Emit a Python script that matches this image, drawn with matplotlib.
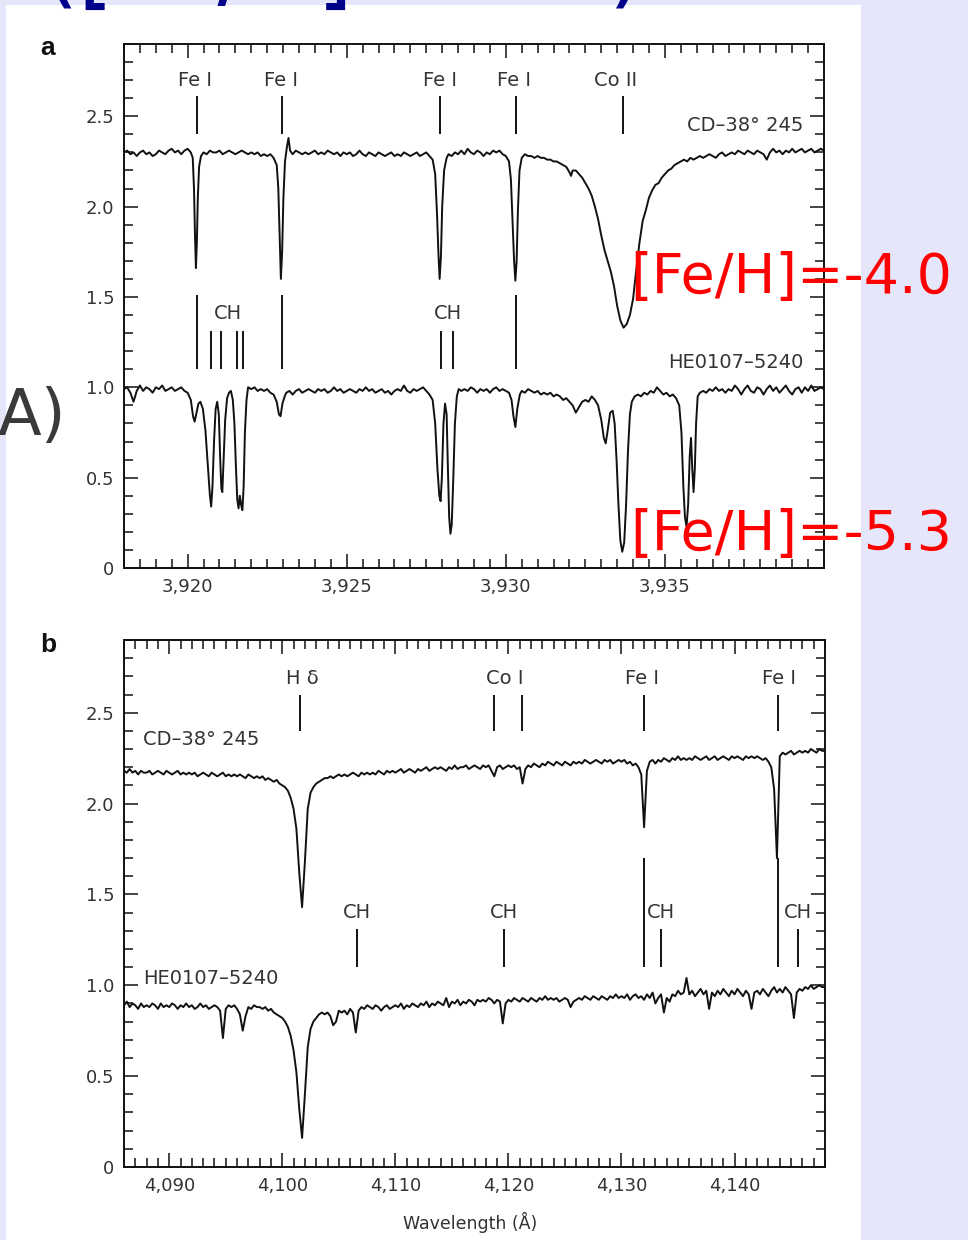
import numpy as np
import matplotlib
matplotlib.use("Agg")
import matplotlib.pyplot as plt
from matplotlib.patches import Rectangle
from matplotlib.ticker import MultipleLocator, FixedLocator, FixedFormatter

plt.rcParams['font.family'] = ['DejaVu Sans']

# ---------------- panel a data (wavelength in A, relative flux) ----------------
a_top_spectrum = [  # CD-38 245, offset +1.3
    (3918.0, 2.30), (3918.1, 2.31), (3918.2, 2.29), (3918.3, 2.30), (3918.4, 2.28),
    (3918.5, 2.30), (3918.6, 2.31), (3918.7, 2.29), (3918.8, 2.30), (3918.9, 2.28),
    (3919.0, 2.29), (3919.1, 2.31), (3919.2, 2.30), (3919.3, 2.29), (3919.4, 2.31),
    (3919.5, 2.32), (3919.6, 2.30), (3919.7, 2.31), (3919.8, 2.29), (3919.9, 2.31),
    (3920.0, 2.32), (3920.1, 2.30), (3920.16, 2.27), (3920.20, 2.10), (3920.23, 1.85),
    (3920.26, 1.66), (3920.29, 1.80), (3920.32, 2.05), (3920.36, 2.22), (3920.42, 2.28),
    (3920.5, 2.30), (3920.6, 2.29), (3920.7, 2.31), (3920.8, 2.30), (3920.9, 2.30),
    (3921.0, 2.31), (3921.1, 2.29), (3921.2, 2.30), (3921.3, 2.31), (3921.4, 2.30),
    (3921.5, 2.29), (3921.6, 2.30), (3921.7, 2.31), (3921.8, 2.30), (3921.9, 2.29),
    (3922.0, 2.30), (3922.1, 2.29), (3922.2, 2.30), (3922.3, 2.28), (3922.4, 2.29),
    (3922.5, 2.28), (3922.6, 2.29), (3922.7, 2.27), (3922.8, 2.23), (3922.85, 2.10),
    (3922.89, 1.85), (3922.93, 1.60), (3922.97, 1.75), (3923.01, 2.05), (3923.06, 2.25),
    (3923.12, 2.33), (3923.17, 2.38), (3923.22, 2.31), (3923.3, 2.29), (3923.4, 2.31),
    (3923.5, 2.30), (3923.6, 2.29), (3923.7, 2.30), (3923.8, 2.29), (3923.9, 2.30),
    (3924.0, 2.31), (3924.1, 2.29), (3924.2, 2.30), (3924.3, 2.29), (3924.4, 2.31),
    (3924.5, 2.30), (3924.6, 2.29), (3924.7, 2.30), (3924.8, 2.28), (3924.9, 2.30),
    (3925.0, 2.29), (3925.1, 2.30), (3925.2, 2.28), (3925.3, 2.29), (3925.4, 2.31),
    (3925.5, 2.29), (3925.6, 2.28), (3925.7, 2.30), (3925.8, 2.29), (3925.9, 2.28),
    (3926.0, 2.30), (3926.1, 2.29), (3926.2, 2.28), (3926.3, 2.29), (3926.4, 2.30),
    (3926.5, 2.28), (3926.6, 2.29), (3926.7, 2.28), (3926.8, 2.30), (3926.9, 2.29),
    (3927.0, 2.28), (3927.1, 2.29), (3927.2, 2.30), (3927.3, 2.28), (3927.4, 2.29),
    (3927.5, 2.30), (3927.6, 2.28), (3927.7, 2.26), (3927.78, 2.18), (3927.84, 1.95),
    (3927.88, 1.75), (3927.92, 1.60), (3927.96, 1.72), (3928.0, 2.00), (3928.06, 2.20),
    (3928.14, 2.27), (3928.2, 2.29), (3928.3, 2.28), (3928.4, 2.30), (3928.5, 2.29),
    (3928.6, 2.31), (3928.7, 2.29), (3928.8, 2.32), (3928.9, 2.30), (3929.0, 2.29),
    (3929.1, 2.31), (3929.2, 2.30), (3929.3, 2.28), (3929.4, 2.30), (3929.5, 2.29),
    (3929.6, 2.31), (3929.7, 2.30), (3929.8, 2.31), (3929.9, 2.29), (3930.0, 2.28),
    (3930.1, 2.25), (3930.16, 2.15), (3930.21, 1.92), (3930.26, 1.70), (3930.30, 1.59),
    (3930.34, 1.70), (3930.38, 1.98), (3930.43, 2.20), (3930.5, 2.27), (3930.6, 2.29),
    (3930.7, 2.28), (3930.8, 2.28), (3930.9, 2.27), (3931.0, 2.28), (3931.1, 2.27),
    (3931.2, 2.27), (3931.3, 2.26), (3931.4, 2.26), (3931.5, 2.25), (3931.6, 2.25),
    (3931.7, 2.24), (3931.8, 2.23), (3931.9, 2.22), (3932.0, 2.19), (3932.05, 2.17),
    (3932.1, 2.20), (3932.2, 2.20), (3932.3, 2.18), (3932.4, 2.16), (3932.5, 2.13),
    (3932.6, 2.10), (3932.7, 2.06), (3932.8, 2.00), (3932.9, 1.93), (3933.0, 1.84),
    (3933.1, 1.76), (3933.2, 1.70), (3933.3, 1.64), (3933.4, 1.56), (3933.5, 1.45),
    (3933.6, 1.37), (3933.7, 1.33), (3933.8, 1.35), (3933.9, 1.40), (3934.0, 1.49),
    (3934.1, 1.65), (3934.2, 1.80), (3934.3, 1.92), (3934.4, 1.98), (3934.5, 2.05),
    (3934.6, 2.09), (3934.7, 2.12), (3934.8, 2.13), (3934.9, 2.16), (3935.0, 2.18),
    (3935.1, 2.20), (3935.2, 2.21), (3935.3, 2.23), (3935.4, 2.24), (3935.5, 2.25),
    (3935.6, 2.26), (3935.7, 2.25), (3935.8, 2.27), (3935.9, 2.26), (3936.0, 2.27),
    (3936.1, 2.28), (3936.2, 2.27), (3936.3, 2.28), (3936.4, 2.29), (3936.5, 2.28),
    (3936.6, 2.27), (3936.7, 2.29), (3936.8, 2.30), (3936.9, 2.28), (3937.0, 2.29),
    (3937.1, 2.30), (3937.2, 2.29), (3937.3, 2.31), (3937.4, 2.30), (3937.5, 2.29),
    (3937.6, 2.31), (3937.7, 2.30), (3937.8, 2.29), (3937.9, 2.31), (3938.0, 2.30),
    (3938.1, 2.29), (3938.2, 2.26), (3938.3, 2.30), (3938.4, 2.32), (3938.5, 2.30),
    (3938.6, 2.31), (3938.7, 2.29), (3938.8, 2.31), (3938.9, 2.30), (3939.0, 2.32),
    (3939.1, 2.30), (3939.2, 2.31), (3939.3, 2.32), (3939.4, 2.30), (3939.5, 2.31),
    (3939.6, 2.32), (3939.7, 2.30), (3939.8, 2.31), (3939.9, 2.32), (3940.0, 2.31),
]

a_bottom_spectrum = [  # HE0107-5240
    (3918.0, 0.99), (3918.1, 1.00), (3918.2, 0.97), (3918.3, 0.92), (3918.4, 0.98),
    (3918.5, 1.01), (3918.6, 0.98), (3918.7, 1.00), (3918.8, 0.99), (3918.9, 0.97),
    (3919.0, 1.00), (3919.1, 0.99), (3919.2, 1.01), (3919.3, 0.98), (3919.4, 0.99),
    (3919.5, 1.00), (3919.6, 0.98), (3919.7, 0.99), (3919.8, 1.00), (3919.9, 0.98),
    (3920.0, 0.97), (3920.1, 0.93), (3920.17, 0.84), (3920.22, 0.81), (3920.28, 0.86),
    (3920.34, 0.91), (3920.4, 0.92), (3920.48, 0.88), (3920.56, 0.76), (3920.64, 0.55),
    (3920.70, 0.40), (3920.74, 0.34), (3920.78, 0.45), (3920.83, 0.70), (3920.88, 0.88),
    (3920.93, 0.92), (3920.98, 0.85), (3921.02, 0.62), (3921.06, 0.44), (3921.09, 0.42),
    (3921.13, 0.60), (3921.18, 0.82), (3921.24, 0.94), (3921.30, 0.97), (3921.36, 0.98),
    (3921.42, 0.93), (3921.47, 0.80), (3921.52, 0.55), (3921.56, 0.38), (3921.60, 0.33),
    (3921.64, 0.40), (3921.68, 0.35), (3921.72, 0.32), (3921.76, 0.45), (3921.80, 0.75),
    (3921.85, 0.93), (3921.9, 1.00), (3922.0, 0.99), (3922.1, 1.00), (3922.2, 0.98),
    (3922.3, 0.99), (3922.4, 0.98), (3922.5, 0.99), (3922.6, 0.97), (3922.7, 0.96),
    (3922.8, 0.92), (3922.87, 0.85), (3922.92, 0.84), (3922.98, 0.91), (3923.05, 0.95),
    (3923.1, 0.97), (3923.2, 0.98), (3923.3, 0.96), (3923.4, 0.98), (3923.5, 0.99),
    (3923.6, 0.97), (3923.7, 0.98), (3923.8, 0.99), (3923.9, 0.98), (3924.0, 0.97),
    (3924.1, 0.99), (3924.2, 0.98), (3924.3, 0.99), (3924.4, 0.97), (3924.5, 0.98),
    (3924.6, 1.00), (3924.7, 0.98), (3924.8, 0.99), (3924.9, 0.97), (3925.0, 0.98),
    (3925.1, 0.99), (3925.2, 0.98), (3925.3, 0.97), (3925.4, 0.99), (3925.5, 0.98),
    (3925.6, 1.00), (3925.7, 0.98), (3925.8, 0.99), (3925.9, 0.97), (3926.0, 0.98),
    (3926.1, 0.99), (3926.2, 0.97), (3926.3, 0.98), (3926.4, 0.96), (3926.5, 0.98),
    (3926.6, 0.99), (3926.7, 0.98), (3926.8, 1.01), (3926.9, 0.98), (3927.0, 0.97),
    (3927.1, 0.99), (3927.2, 0.98), (3927.3, 0.99), (3927.4, 1.00), (3927.5, 0.98),
    (3927.6, 0.96), (3927.7, 0.93), (3927.78, 0.80), (3927.85, 0.55), (3927.91, 0.40),
    (3927.95, 0.37), (3927.99, 0.50), (3928.04, 0.80), (3928.09, 0.91), (3928.14, 0.85),
    (3928.18, 0.55), (3928.22, 0.28), (3928.26, 0.19), (3928.30, 0.24), (3928.35, 0.50),
    (3928.40, 0.80), (3928.46, 0.95), (3928.52, 0.99), (3928.6, 0.98), (3928.7, 0.99),
    (3928.8, 0.98), (3928.9, 1.00), (3929.0, 0.99), (3929.1, 0.97), (3929.2, 0.99),
    (3929.3, 0.98), (3929.4, 0.99), (3929.5, 0.97), (3929.6, 0.99), (3929.7, 1.00),
    (3929.8, 0.98), (3929.9, 0.99), (3930.0, 0.98), (3930.1, 0.97), (3930.18, 0.93),
    (3930.24, 0.84), (3930.30, 0.78), (3930.36, 0.88), (3930.44, 0.96), (3930.5, 0.98),
    (3930.6, 0.97), (3930.7, 0.99), (3930.8, 0.98), (3930.9, 0.97), (3931.0, 0.98),
    (3931.1, 0.96), (3931.2, 0.97), (3931.3, 0.96), (3931.4, 0.97), (3931.5, 0.95),
    (3931.6, 0.96), (3931.7, 0.95), (3931.8, 0.93), (3931.9, 0.94), (3932.0, 0.92),
    (3932.1, 0.90), (3932.2, 0.86), (3932.3, 0.89), (3932.4, 0.92), (3932.5, 0.93),
    (3932.6, 0.92), (3932.7, 0.95), (3932.8, 0.93), (3932.9, 0.90), (3933.0, 0.82),
    (3933.08, 0.72), (3933.14, 0.69), (3933.2, 0.76), (3933.28, 0.86), (3933.36, 0.87),
    (3933.42, 0.80), (3933.48, 0.60), (3933.54, 0.35), (3933.60, 0.15), (3933.66, 0.09),
    (3933.72, 0.14), (3933.78, 0.35), (3933.84, 0.65), (3933.90, 0.85), (3933.96, 0.92),
    (3934.05, 0.95), (3934.15, 0.96), (3934.25, 0.95), (3934.35, 0.97), (3934.45, 0.96),
    (3934.55, 0.98), (3934.65, 0.97), (3934.75, 1.00), (3934.85, 0.98), (3934.95, 0.96),
    (3935.05, 0.97), (3935.15, 0.95), (3935.25, 0.96), (3935.35, 0.94), (3935.45, 0.90),
    (3935.52, 0.75), (3935.58, 0.45), (3935.63, 0.28), (3935.68, 0.23), (3935.73, 0.35),
    (3935.78, 0.62), (3935.82, 0.72), (3935.86, 0.55), (3935.90, 0.42), (3935.94, 0.55),
    (3935.98, 0.80), (3936.03, 0.95), (3936.1, 0.97), (3936.2, 0.98), (3936.3, 0.97),
    (3936.4, 0.99), (3936.5, 0.98), (3936.6, 1.00), (3936.7, 0.98), (3936.8, 0.99),
    (3936.9, 0.97), (3937.0, 0.99), (3937.1, 0.98), (3937.2, 1.01), (3937.3, 0.99),
    (3937.4, 0.96), (3937.5, 0.99), (3937.6, 1.01), (3937.7, 0.98), (3937.8, 0.97),
    (3937.9, 1.00), (3938.0, 0.99), (3938.1, 0.96), (3938.2, 0.99), (3938.3, 1.01),
    (3938.4, 0.98), (3938.5, 1.00), (3938.6, 0.97), (3938.7, 0.99), (3938.8, 1.01),
    (3938.9, 0.98), (3939.0, 0.96), (3939.1, 0.99), (3939.2, 1.00), (3939.3, 0.97),
    (3939.4, 1.00), (3939.5, 0.98), (3939.6, 1.01), (3939.7, 0.98), (3939.8, 0.99),
    (3939.9, 1.00), (3940.0, 0.99),
]

# line identifications, panel a
a_top_lines = [3920.30, 3922.95, 3927.92, 3930.33, 3933.68]
a_top_label_x = [3920.23, 3922.94, 3927.92, 3930.26, 3933.44]
a_top_labels = ["Fe I", "Fe I", "Fe I", "Fe I", "Co II"]
a_bottom_long = [3920.30, 3922.95, 3930.33]
a_bottom_ch = [3920.74, 3921.05, 3921.55, 3921.74, 3927.97, 3928.35]
a_bottom_ch_label_x = [3921.27, 3928.19]

# ---------------- panel b data (0.25 A sampling from 4086 to 4148) ----------------
b_start, b_step = 4086.0, 0.25
b_top_flux = [  # CD-38 245
    2.18, 2.17, 2.19, 2.17, 2.18, 2.16, 2.18, 2.17,
    2.17, 2.18, 2.16, 2.17, 2.18, 2.17, 2.16, 2.18,
    2.17, 2.16, 2.17, 2.18, 2.16, 2.17, 2.16, 2.17,
    2.16, 2.17, 2.15, 2.16, 2.17, 2.16, 2.15, 2.17,
    2.16, 2.15, 2.16, 2.17, 2.15, 2.16, 2.15, 2.16,
    2.15, 2.16, 2.15, 2.14, 2.16, 2.15, 2.14, 2.15,
    2.14, 2.15, 2.13, 2.14, 2.13, 2.12, 2.13, 2.11,
    2.10, 2.09, 2.07, 2.03, 1.97, 1.86, 1.62, 1.43,
    1.68, 1.97, 2.06, 2.09, 2.11, 2.12, 2.13, 2.14,
    2.14, 2.15, 2.14, 2.15, 2.16, 2.15, 2.16, 2.15,
    2.16, 2.17, 2.16, 2.15, 2.17, 2.16, 2.17, 2.16,
    2.17, 2.16, 2.18, 2.17, 2.16, 2.18, 2.17, 2.18,
    2.17, 2.18, 2.19, 2.17, 2.18, 2.19, 2.18, 2.17,
    2.19, 2.18, 2.19, 2.20, 2.18, 2.19, 2.20, 2.19,
    2.20, 2.19, 2.18, 2.20, 2.19, 2.21, 2.19, 2.20,
    2.20, 2.21, 2.19, 2.20, 2.21, 2.20, 2.19, 2.21,
    2.20, 2.21, 2.18, 2.15, 2.20, 2.21, 2.19, 2.20,
    2.21, 2.20, 2.21, 2.19, 2.20, 2.11, 2.19, 2.21,
    2.20, 2.22, 2.21, 2.20, 2.22, 2.21, 2.23, 2.22,
    2.21, 2.23, 2.22, 2.21, 2.23, 2.22, 2.21, 2.23,
    2.22, 2.23, 2.22, 2.24, 2.23, 2.22, 2.23, 2.24,
    2.23, 2.22, 2.24, 2.23, 2.24, 2.22, 2.23, 2.24,
    2.23, 2.24, 2.22, 2.23, 2.21, 2.22, 2.20, 2.16,
    1.87, 2.18, 2.23, 2.24, 2.22, 2.24, 2.23, 2.25,
    2.24, 2.23, 2.25, 2.24, 2.26, 2.24, 2.25, 2.24,
    2.25, 2.24, 2.26, 2.25, 2.24, 2.25, 2.26, 2.24,
    2.25, 2.26, 2.24, 2.25, 2.26, 2.25, 2.24, 2.26,
    2.25, 2.26, 2.25, 2.24, 2.26, 2.25, 2.26, 2.25,
    2.26, 2.25, 2.24, 2.25, 2.23, 2.20, 2.08, 1.70,
    2.26, 2.28, 2.27, 2.28, 2.29, 2.27, 2.28, 2.29,
    2.28, 2.29, 2.28, 2.30, 2.29, 2.28, 2.30, 2.29,
    2.29,
]
b_bottom_flux = [  # HE0107-5240
    0.89, 0.91, 0.88, 0.90, 0.89, 0.87, 0.90, 0.88,
    0.89, 0.88, 0.90, 0.89, 0.87, 0.90, 0.88, 0.89,
    0.88, 0.90, 0.89, 0.87, 0.89, 0.88, 0.90, 0.88,
    0.89, 0.87, 0.88, 0.90, 0.88, 0.89, 0.87, 0.88,
    0.89, 0.88, 0.86, 0.71, 0.87, 0.89, 0.88, 0.89,
    0.87, 0.84, 0.75, 0.83, 0.88, 0.87, 0.89, 0.88,
    0.88, 0.87, 0.88, 0.86, 0.87, 0.85, 0.84, 0.83,
    0.82, 0.80, 0.77, 0.72, 0.64, 0.52, 0.32, 0.16,
    0.40, 0.66, 0.76, 0.80, 0.82, 0.84, 0.85, 0.84,
    0.85, 0.83, 0.78, 0.80, 0.86, 0.85, 0.86, 0.84,
    0.87, 0.85, 0.74, 0.86, 0.88, 0.87, 0.89, 0.88,
    0.87, 0.89, 0.88, 0.86, 0.88, 0.89, 0.87, 0.88,
    0.89, 0.88, 0.90, 0.87, 0.89, 0.88, 0.90, 0.89,
    0.88, 0.90, 0.89, 0.91, 0.88, 0.90, 0.89, 0.91,
    0.90, 0.89, 0.93, 0.88, 0.91, 0.90, 0.92, 0.89,
    0.91, 0.90, 0.92, 0.91, 0.89, 0.92, 0.91, 0.92,
    0.91, 0.93, 0.92, 0.90, 0.92, 0.91, 0.79, 0.90,
    0.92, 0.91, 0.93, 0.92, 0.91, 0.93, 0.92, 0.91,
    0.93, 0.92, 0.91, 0.93, 0.92, 0.94, 0.92, 0.93,
    0.92, 0.93, 0.91, 0.92, 0.93, 0.92, 0.88, 0.91,
    0.92, 0.93, 0.92, 0.94, 0.93, 0.92, 0.94, 0.93,
    0.92, 0.94, 0.93, 0.92, 0.94, 0.93, 0.95, 0.93,
    0.94, 0.93, 0.95, 0.92, 0.94, 0.95, 0.93, 0.94,
    0.92, 0.95, 0.93, 0.96, 0.90, 0.93, 0.95, 0.85,
    0.93, 0.91, 0.95, 0.94, 0.97, 0.95, 0.96, 1.04,
    0.95, 0.97, 0.94, 0.96, 0.98, 0.95, 0.97, 0.87,
    0.96, 0.94, 0.97, 0.95, 0.98, 0.96, 0.94, 0.97,
    0.95, 0.98, 0.96, 0.94, 0.97, 0.95, 0.87, 0.96,
    0.97, 0.95, 0.98, 0.96, 0.94, 0.97, 0.99, 0.96,
    0.98, 0.96, 0.99, 0.97, 0.95, 0.82, 0.96, 0.98,
    0.97, 0.99, 0.98, 1.00, 0.98, 0.99, 1.00, 0.99,
    0.99,
]

# line identifications, panel b
b_top_lines = [4101.6, 4118.7, 4121.2, 4132.0, 4143.8]
b_top_label_x = [4101.75, 4119.7, 4131.8, 4143.9]
b_top_labels = ["H δ", "Co I", "Fe I", "Fe I"]
b_bottom_long = [4132.0, 4143.8]
b_bottom_ch = [4106.6, 4119.6, 4133.5, 4145.6]

y_ticks = [0, 0.5, 1.0, 1.5, 2.0, 2.5]
y_ticklabels = ["0", "0.5", "1.0", "1.5", "2.0", "2.5"]
a_xticks = [3920, 3925, 3930, 3935]
a_xticklabels = ["3,920", "3,925", "3,930", "3,935"]
b_xticks = [4090, 4100, 4110, 4120, 4130, 4140]
b_xticklabels = ["4,090", "4,100", "4,110", "4,120", "4,130", "4,140"]

INK = "#111111"
TXT = "#333333"


def style_axes(ax, xlim, xticks, xlabels, xminor):
    ax.set_xlim(*xlim)
    ax.set_ylim(0, 2.9)
    ax.xaxis.set_major_locator(FixedLocator(xticks))
    ax.xaxis.set_major_formatter(FixedFormatter(xlabels))
    ax.xaxis.set_minor_locator(MultipleLocator(xminor))
    ax.yaxis.set_major_locator(FixedLocator(y_ticks))
    ax.yaxis.set_major_formatter(FixedFormatter(y_ticklabels))
    ax.yaxis.set_minor_locator(MultipleLocator(0.1))
    ax.tick_params(which="both", direction="in", top=True, right=True,
                   color="#111111", width=1.1)
    ax.tick_params(which="major", length=10, labelsize=13, labelcolor=TXT, pad=7)
    ax.tick_params(which="minor", length=6.5)
    for s in ax.spines.values():
        s.set_linewidth(1.4)
        s.set_color("#111111")


def mark_lines(ax, xs, y0, y1):
    ax.vlines(xs, y0, y1, color=INK, lw=1.4)


fig = plt.figure(figsize=(9.68, 12.4), dpi=100, facecolor="#e6e6fa")
fig.add_artist(Rectangle((6 / 968, 0), 855 / 968, 1 - 5 / 1240,
                         transform=fig.transFigure, facecolor="white",
                         edgecolor="none", zorder=-5))

# ---------------- panel a ----------------
ax_a = fig.add_axes([124 / 968, 1 - 568 / 1240, 700 / 968, 524 / 1240])
top = np.array(a_top_spectrum)
bot = np.array(a_bottom_spectrum)
ax_a.plot(top[:, 0], top[:, 1], color=INK, lw=1.4)
ax_a.plot(bot[:, 0], bot[:, 1], color=INK, lw=1.4)
style_axes(ax_a, (3918, 3940), a_xticks, a_xticklabels, 0.5)

mark_lines(ax_a, a_top_lines, 2.40, 2.61)
for x, lab in zip(a_top_label_x, a_top_labels):
    ax_a.text(x, 2.70, lab, ha="center", va="center", fontsize=14, color=TXT)
ax_a.text(3939.35, 2.45, "CD\u201338\u00b0 245", ha="right", va="center",
          fontsize=14, color=TXT)

mark_lines(ax_a, a_bottom_long, 1.10, 1.51)
mark_lines(ax_a, a_bottom_ch, 1.10, 1.31)
for x in a_bottom_ch_label_x:
    ax_a.text(x, 1.41, "CH", ha="center", va="center", fontsize=14, color=TXT)
ax_a.text(3939.35, 1.14, "HE0107\u20135240", ha="right", va="center",
          fontsize=14, color=TXT)

# ---------------- panel b ----------------
ax_b = fig.add_axes([124 / 968, 1 - 1167 / 1240, 701 / 968, 527 / 1240])
b_wl = b_start + b_step * np.arange(len(b_top_flux))
ax_b.plot(b_wl, b_top_flux, color=INK, lw=1.4)
ax_b.plot(b_wl, b_bottom_flux, color=INK, lw=1.4)
style_axes(ax_b, (4086, 4148), b_xticks, b_xticklabels, 1)

mark_lines(ax_b, b_top_lines, 2.40, 2.60)
for x, lab in zip(b_top_label_x, b_top_labels):
    ax_b.text(x, 2.69, lab, ha="center", va="center", fontsize=14, color=TXT)
ax_b.text(4087.7, 2.35, "CD\u201338\u00b0 245", ha="left", va="center",
          fontsize=14, color=TXT)

mark_lines(ax_b, b_bottom_long, 1.10, 1.70)
mark_lines(ax_b, b_bottom_ch, 1.10, 1.31)
for x in b_bottom_ch:
    ax_b.text(x, 1.40, "CH", ha="center", va="center", fontsize=14, color=TXT)
ax_b.text(4087.7, 1.04, "HE0107\u20135240", ha="left", va="center",
          fontsize=14, color=TXT)

fig.text(470 / 968, 1 - 1222 / 1240, "Wavelength (Å)", ha="center", va="center",
         fontsize=12.5, color=TXT)

# panel letters
fig.text(40 / 968, 1 - 55 / 1240, "a", fontsize=19, fontweight="bold",
         family="Liberation Sans", color="#111111", va="baseline")
fig.text(40 / 968, 1 - 652 / 1240, "b", fontsize=19, fontweight="bold",
         family="Liberation Sans", color="#111111", va="baseline")

# slide overlays
fig.text(630 / 968, 1 - 293 / 1240, "[Fe/H]=-4.0", fontsize=40, color="red",
         va="baseline", ha="left")
fig.text(630 / 968, 1 - 550 / 1240, "[Fe/H]=-5.3", fontsize=40, color="red",
         va="baseline", ha="left")
fig.text(-2 / 968, 1 - 435 / 1240, "A)", fontsize=46, color="#3a3a3a",
         va="baseline", ha="left")
# title of the slide, almost all above the visible area (only descenders show)
fig.text(42 / 968, 1 + 3 / 1240, "([Fe/H]=-5.3)", fontsize=66, color="#00008b",
         va="baseline", ha="left")

fig.savefig("out.png", dpi=100, facecolor=fig.get_facecolor())
